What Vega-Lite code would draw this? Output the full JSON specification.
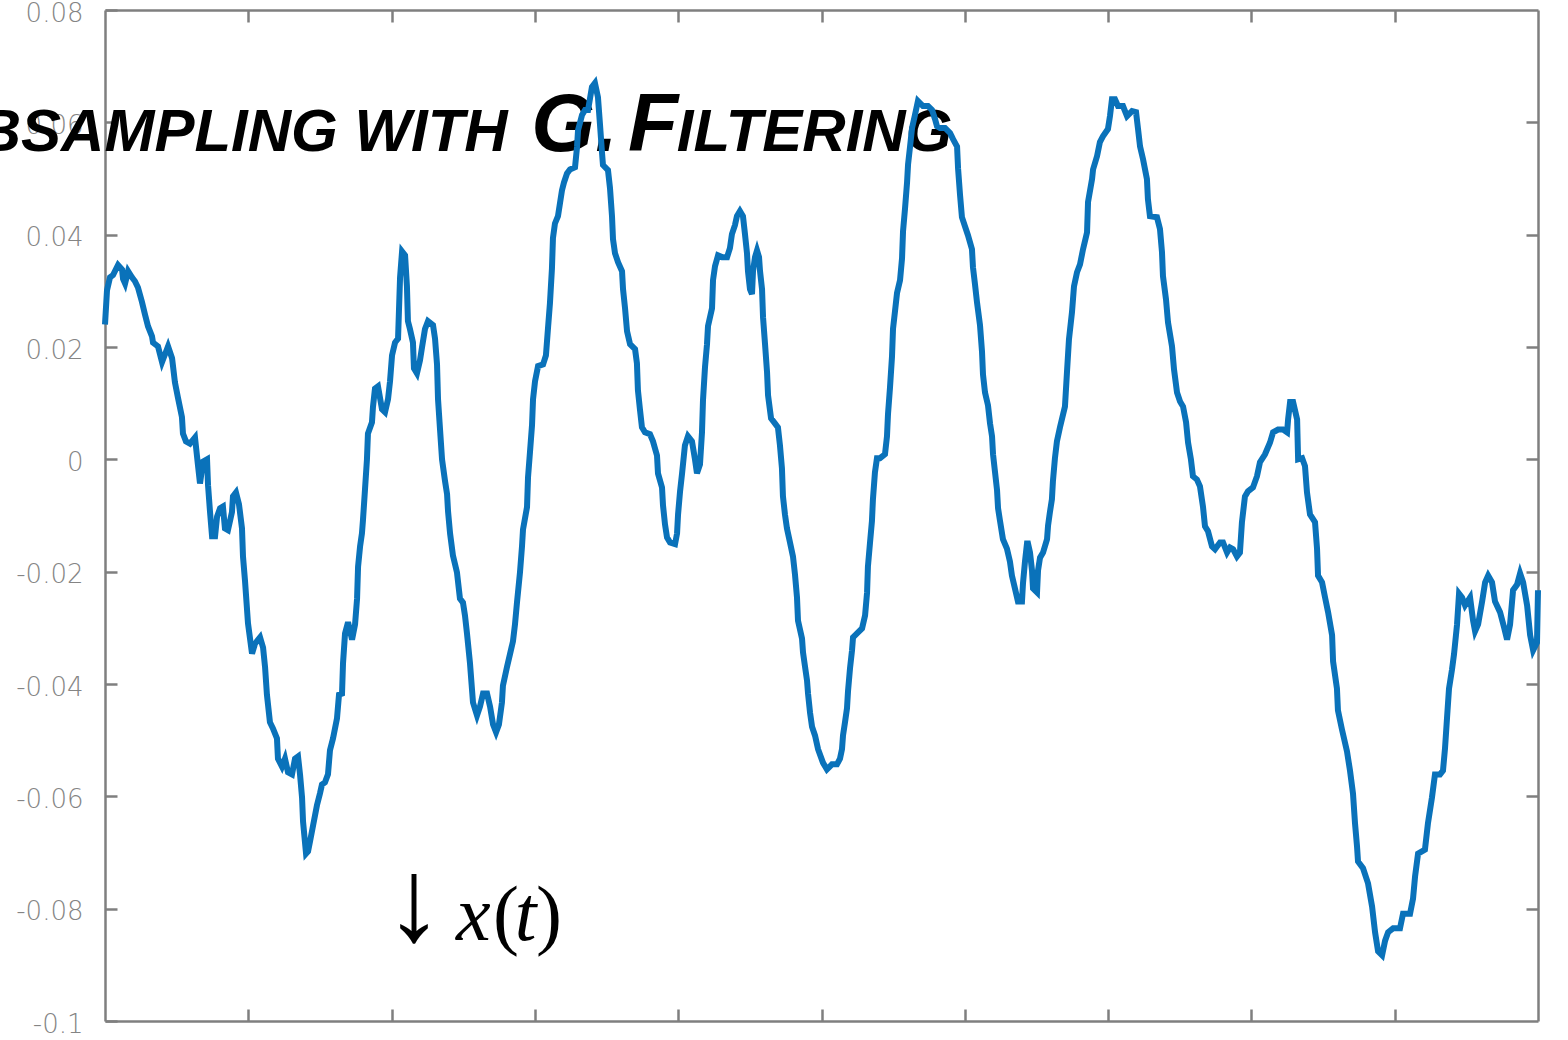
{
  "$schema": "https://vega.github.io/schema/vega-lite/v6.json",
  "width": 1433,
  "height": 1011,
  "autosize": {"type": "none"},
  "padding": {"left": 105, "top": 10, "right": 30, "bottom": 19},
  "background": "white",
  "config": {
    "view": {"stroke": null},
    "axis": {
      "domainColor": "#7f7f7f",
      "domainWidth": 2.5,
      "tickColor": "#7f7f7f",
      "tickWidth": 2.5,
      "tickSize": -12,
      "grid": false,
      "title": null,
      "labelFont": "DejaVu Sans",
      "labelFontSize": 26,
      "labelColor": "#848484",
      "labelFontWeight": 200
    }
  },
  "datasets": {
    "sig": [
      {"t":0.000,"v":0.0240},{"t":0.014,"v":0.0301},{"t":0.035,"v":0.0324},{"t":0.056,"v":0.0328},{"t":0.091,"v":0.0346},{"t":0.119,"v":0.0338},{"t":0.126,"v":0.0321},{"t":0.140,"v":0.0313},{"t":0.161,"v":0.0335},{"t":0.188,"v":0.0324},{"t":0.209,"v":0.0317},{"t":0.230,"v":0.0306},{"t":0.258,"v":0.0280},{"t":0.279,"v":0.0258},{"t":0.300,"v":0.0237},{"t":0.328,"v":0.0219},{"t":0.335,"v":0.0208},{"t":0.370,"v":0.0201},{"t":0.398,"v":0.0173},{"t":0.419,"v":0.0187},{"t":0.440,"v":0.0201},{"t":0.468,"v":0.0180},{"t":0.488,"v":0.0137},{"t":0.509,"v":0.0110},{"t":0.537,"v":0.0075},{"t":0.544,"v":0.0046},{"t":0.565,"v":0.0032},{"t":0.593,"v":0.0028},{"t":0.628,"v":0.0039},{"t":0.649,"v":-0.0011},{"t":0.663,"v":-0.0043},{"t":0.684,"v":-0.0004},{"t":0.712,"v":0.0000},{"t":0.719,"v":-0.0046},{"t":0.733,"v":-0.0094},{"t":0.747,"v":-0.0137},{"t":0.768,"v":-0.0137},{"t":0.782,"v":-0.0102},{"t":0.803,"v":-0.0087},{"t":0.823,"v":-0.0084},{"t":0.837,"v":-0.0123},{"t":0.858,"v":-0.0126},{"t":0.886,"v":-0.0094},{"t":0.893,"v":-0.0066},{"t":0.914,"v":-0.0059},{"t":0.935,"v":-0.0080},{"t":0.956,"v":-0.0123},{"t":0.963,"v":-0.0173},{"t":0.977,"v":-0.0216},{"t":0.998,"v":-0.0292},{"t":1.026,"v":-0.0346},{"t":1.047,"v":-0.0328},{"t":1.082,"v":-0.0317},{"t":1.103,"v":-0.0335},{"t":1.117,"v":-0.0370},{"t":1.130,"v":-0.0419},{"t":1.151,"v":-0.0468},{"t":1.172,"v":-0.0479},{"t":1.200,"v":-0.0497},{"t":1.207,"v":-0.0533},{"t":1.235,"v":-0.0547},{"t":1.256,"v":-0.0533},{"t":1.277,"v":-0.0557},{"t":1.305,"v":-0.0561},{"t":1.326,"v":-0.0533},{"t":1.347,"v":-0.0529},{"t":1.361,"v":-0.0561},{"t":1.375,"v":-0.0602},{"t":1.382,"v":-0.0645},{"t":1.403,"v":-0.0702},{"t":1.417,"v":-0.0698},{"t":1.431,"v":-0.0680},{"t":1.452,"v":-0.0652},{"t":1.479,"v":-0.0616},{"t":1.500,"v":-0.0595},{"t":1.514,"v":-0.0579},{"t":1.535,"v":-0.0575},{"t":1.556,"v":-0.0561},{"t":1.570,"v":-0.0518},{"t":1.591,"v":-0.0497},{"t":1.619,"v":-0.0461},{"t":1.633,"v":-0.0419},
      {"t":1.654,"v":-0.0417},{"t":1.661,"v":-0.0363},{"t":1.675,"v":-0.0310},{"t":1.696,"v":-0.0290},{"t":1.724,"v":-0.0321},{"t":1.745,"v":-0.0294},{"t":1.759,"v":-0.0248},{"t":1.766,"v":-0.0191},{"t":1.780,"v":-0.0155},{"t":1.793,"v":-0.0132},{"t":1.800,"v":-0.0109},{"t":1.814,"v":-0.0055},{"t":1.828,"v":0.0000},{"t":1.835,"v":0.0046},{"t":1.863,"v":0.0066},{"t":1.870,"v":0.0093},{"t":1.884,"v":0.0126},{"t":1.905,"v":0.0130},{"t":1.933,"v":0.0089},{"t":1.954,"v":0.0084},{"t":1.975,"v":0.0107},{"t":1.989,"v":0.0139},{"t":2.003,"v":0.0185},{"t":2.024,"v":0.0208},{"t":2.045,"v":0.0215},{"t":2.059,"v":0.0324},{"t":2.073,"v":0.0370},{"t":2.094,"v":0.0363},{"t":2.107,"v":0.0308},{"t":2.114,"v":0.0246},{"t":2.128,"v":0.0232},{"t":2.149,"v":0.0208},{"t":2.156,"v":0.0162},{"t":2.177,"v":0.0153},{"t":2.198,"v":0.0176},{"t":2.212,"v":0.0199},{"t":2.233,"v":0.0232},{"t":2.254,"v":0.0246},{"t":2.289,"v":0.0239},{"t":2.303,"v":0.0215},{"t":2.317,"v":0.0169},{"t":2.324,"v":0.0107},{"t":2.338,"v":0.0053},{"t":2.352,"v":0.0000},{"t":2.373,"v":-0.0039},{"t":2.387,"v":-0.0062},{"t":2.394,"v":-0.0093},{"t":2.408,"v":-0.0132},{"t":2.428,"v":-0.0171},{"t":2.456,"v":-0.0201},{"t":2.477,"v":-0.0248},{"t":2.498,"v":-0.0255},{"t":2.512,"v":-0.0278},{"t":2.526,"v":-0.0310},{"t":2.547,"v":-0.0363},{"t":2.568,"v":-0.0433},{"t":2.596,"v":-0.0456},{"t":2.617,"v":-0.0440},{"t":2.638,"v":-0.0417},{"t":2.666,"v":-0.0417},{"t":2.687,"v":-0.0440},{"t":2.708,"v":-0.0472},{"t":2.729,"v":-0.0486},{"t":2.749,"v":-0.0472},{"t":2.770,"v":-0.0433},{"t":2.777,"v":-0.0403},{"t":2.805,"v":-0.0370},{"t":2.826,"v":-0.0347},{"t":2.847,"v":-0.0324},{"t":2.861,"v":-0.0294},{"t":2.875,"v":-0.0255},{"t":2.896,"v":-0.0201},{"t":2.910,"v":-0.0155},{"t":2.917,"v":-0.0125},{"t":2.945,"v":-0.0085},{"t":2.952,"v":-0.0032},{"t":2.966,"v":0.0014},{"t":2.980,"v":0.0061},{"t":2.987,"v":0.0107},{"t":3.001,"v":0.0139},{"t":3.022,"v":0.0166},{"t":3.057,"v":0.0169},{"t":3.077,"v":0.0185},{"t":3.091,"v":0.0232},{"t":3.105,"v":0.0278},{"t":3.119,"v":0.0340},{"t":3.126,"v":0.0394},{"t":3.140,"v":0.0420},{"t":3.161,"v":0.0433},{"t":3.175,"v":0.0456},{"t":3.189,"v":0.0479},{"t":3.203,"v":0.0493},{"t":3.224,"v":0.0509},{"t":3.245,"v":0.0516},{"t":3.280,"v":0.0520},{"t":3.294,"v":0.0556},{"t":3.301,"v":0.0586},
      {"t":3.329,"v":0.0613},{"t":3.350,"v":0.0622},{"t":3.371,"v":0.0622},{"t":3.398,"v":0.0663},{"t":3.419,"v":0.0670},{"t":3.440,"v":0.0645},{"t":3.454,"v":0.0597},{"t":3.468,"v":0.0547},{"t":3.475,"v":0.0524},{"t":3.510,"v":0.0515},{"t":3.524,"v":0.0483},{"t":3.538,"v":0.0433},{"t":3.545,"v":0.0392},{"t":3.559,"v":0.0367},{"t":3.580,"v":0.0351},{"t":3.608,"v":0.0335},{"t":3.615,"v":0.0303},{"t":3.629,"v":0.0269},{"t":3.643,"v":0.0228},{"t":3.664,"v":0.0205},{"t":3.699,"v":0.0196},{"t":3.712,"v":0.0171},{"t":3.719,"v":0.0123},{"t":3.733,"v":0.0089},{"t":3.747,"v":0.0057},{"t":3.768,"v":0.0048},{"t":3.803,"v":0.0045},{"t":3.824,"v":0.0032},{"t":3.852,"v":0.0007},{"t":3.859,"v":-0.0025},{"t":3.887,"v":-0.0050},{"t":3.894,"v":-0.0082},{"t":3.908,"v":-0.0116},{"t":3.922,"v":-0.0139},{"t":3.943,"v":-0.0148},{"t":3.978,"v":-0.0151},{"t":3.992,"v":-0.0132},{"t":3.999,"v":-0.0098},{"t":4.013,"v":-0.0057},{"t":4.027,"v":-0.0025},{"t":4.047,"v":0.0025},{"t":4.068,"v":0.0041},{"t":4.096,"v":0.0032},{"t":4.117,"v":0.0000},{"t":4.131,"v":-0.0025},{"t":4.152,"v":-0.0009},{"t":4.166,"v":0.0048},{"t":4.173,"v":0.0105},{"t":4.187,"v":0.0164},{"t":4.201,"v":0.0205},{"t":4.208,"v":0.0237},{"t":4.236,"v":0.0269},{"t":4.243,"v":0.0319},{"t":4.257,"v":0.0344},{"t":4.278,"v":0.0363},{"t":4.306,"v":0.0360},{"t":4.341,"v":0.0360},{"t":4.361,"v":0.0376},{"t":4.375,"v":0.0401},{"t":4.396,"v":0.0417},{"t":4.410,"v":0.0433},{"t":4.431,"v":0.0442},{"t":4.452,"v":0.0433},{"t":4.466,"v":0.0401},{"t":4.480,"v":0.0367},{"t":4.487,"v":0.0335},{"t":4.501,"v":0.0303},{"t":4.515,"v":0.0294},{"t":4.522,"v":0.0335},{"t":4.536,"v":0.0360},{"t":4.550,"v":0.0372},{"t":4.564,"v":0.0360},{"t":4.571,"v":0.0335},{"t":4.585,"v":0.0303},{"t":4.592,"v":0.0253},{"t":4.606,"v":0.0205},{"t":4.620,"v":0.0155},{"t":4.627,"v":0.0114},{"t":4.648,"v":0.0073},{"t":4.675,"v":0.0064},{"t":4.696,"v":0.0057},{"t":4.710,"v":0.0025},{"t":4.724,"v":-0.0016},{"t":4.731,"v":-0.0066},{"t":4.745,"v":-0.0098},{"t":4.759,"v":-0.0123},{"t":4.780,"v":-0.0148},{"t":4.801,"v":-0.0173},{"t":4.815,"v":-0.0205},{"t":4.829,"v":-0.0246},{"t":4.836,"v":-0.0287},{"t":4.864,"v":-0.0319},{"t":4.871,"v":-0.0344},{"t":4.885,"v":-0.0369},{"t":4.899,"v":-0.0394},{"t":4.906,"v":-0.0417},{"t":4.920,"v":-0.0451},{"t":4.934,"v":-0.0476},{"t":4.955,"v":-0.0492},{"t":4.976,"v":-0.0516},
      {"t":5.010,"v":-0.0540},{"t":5.038,"v":-0.0552},{"t":5.073,"v":-0.0543},{"t":5.108,"v":-0.0543},{"t":5.129,"v":-0.0533},{"t":5.143,"v":-0.0516},{"t":5.150,"v":-0.0492},{"t":5.164,"v":-0.0468},{"t":5.178,"v":-0.0443},{"t":5.185,"v":-0.0413},{"t":5.199,"v":-0.0372},{"t":5.213,"v":-0.0340},{"t":5.220,"v":-0.0317},{"t":5.248,"v":-0.0310},{"t":5.283,"v":-0.0301},{"t":5.304,"v":-0.0278},{"t":5.318,"v":-0.0237},{"t":5.324,"v":-0.0191},{"t":5.338,"v":-0.0150},{"t":5.352,"v":-0.0110},{"t":5.359,"v":-0.0071},{"t":5.373,"v":-0.0023},{"t":5.387,"v":0.0002},{"t":5.408,"v":0.0002},{"t":5.443,"v":0.0009},{"t":5.457,"v":0.0041},{"t":5.464,"v":0.0080},{"t":5.478,"v":0.0128},{"t":5.492,"v":0.0183},{"t":5.499,"v":0.0232},{"t":5.513,"v":0.0264},{"t":5.527,"v":0.0296},{"t":5.548,"v":0.0319},{"t":5.562,"v":0.0358},{"t":5.569,"v":0.0406},{"t":5.583,"v":0.0447},{"t":5.597,"v":0.0493},{"t":5.604,"v":0.0525},{"t":5.618,"v":0.0557},{"t":5.632,"v":0.0590},{"t":5.652,"v":0.0613},{"t":5.673,"v":0.0638},{"t":5.708,"v":0.0629},{"t":5.743,"v":0.0629},{"t":5.771,"v":0.0622},{"t":5.792,"v":0.0606},{"t":5.806,"v":0.0593},{"t":5.827,"v":0.0590},{"t":5.862,"v":0.0590},{"t":5.897,"v":0.0581},{"t":5.918,"v":0.0570},{"t":5.946,"v":0.0557},{"t":5.953,"v":0.0518},{"t":5.967,"v":0.0470},{"t":5.980,"v":0.0431},{"t":6.001,"v":0.0415},{"t":6.022,"v":0.0399},{"t":6.050,"v":0.0374},{"t":6.057,"v":0.0342},{"t":6.071,"v":0.0312},{"t":6.085,"v":0.0280},{"t":6.106,"v":0.0239},{"t":6.120,"v":0.0192},{"t":6.127,"v":0.0151},{"t":6.141,"v":0.0119},{"t":6.162,"v":0.0096},{"t":6.176,"v":0.0064},{"t":6.190,"v":0.0041},{"t":6.197,"v":0.0009},{"t":6.211,"v":-0.0023},{"t":6.225,"v":-0.0055},{"t":6.232,"v":-0.0087},{"t":6.246,"v":-0.0110},{"t":6.266,"v":-0.0142},{"t":6.294,"v":-0.0159},{"t":6.315,"v":-0.0182},{"t":6.329,"v":-0.0207},{"t":6.350,"v":-0.0230},{"t":6.371,"v":-0.0253},{"t":6.399,"v":-0.0253},{"t":6.406,"v":-0.0221},{"t":6.420,"v":-0.0182},{"t":6.434,"v":-0.0150},{"t":6.441,"v":-0.0150},{"t":6.455,"v":-0.0166},{"t":6.469,"v":-0.0198},{"t":6.476,"v":-0.0230},{"t":6.504,"v":-0.0237},{"t":6.511,"v":-0.0198},{"t":6.525,"v":-0.0175},{"t":6.546,"v":-0.0166},{"t":6.574,"v":-0.0142},{"t":6.581,"v":-0.0118},{"t":6.594,"v":-0.0094},{"t":6.608,"v":-0.0071},{"t":6.615,"v":-0.0039},{"t":6.629,"v":0.0002},{"t":6.643,"v":0.0032},{"t":6.664,"v":0.0057},
      {"t":6.699,"v":0.0094},{"t":6.713,"v":0.0155},{"t":6.727,"v":0.0214},{"t":6.748,"v":0.0262},{"t":6.762,"v":0.0308},{"t":6.783,"v":0.0333},{"t":6.804,"v":0.0347},{"t":6.825,"v":0.0374},{"t":6.853,"v":0.0404},{"t":6.860,"v":0.0458},{"t":6.888,"v":0.0499},{"t":6.895,"v":0.0516},{"t":6.923,"v":0.0540},{"t":6.943,"v":0.0565},{"t":6.964,"v":0.0575},{"t":6.999,"v":0.0588},{"t":7.013,"v":0.0611},{"t":7.027,"v":0.0641},{"t":7.048,"v":0.0641},{"t":7.069,"v":0.0629},{"t":7.104,"v":0.0629},{"t":7.132,"v":0.0611},{"t":7.167,"v":0.0620},{"t":7.195,"v":0.0618},{"t":7.209,"v":0.0588},{"t":7.223,"v":0.0557},{"t":7.244,"v":0.0534},{"t":7.271,"v":0.0499},{"t":7.278,"v":0.0463},{"t":7.292,"v":0.0433},{"t":7.341,"v":0.0431},{"t":7.362,"v":0.0410},{"t":7.376,"v":0.0369},{"t":7.383,"v":0.0326},{"t":7.404,"v":0.0285},{"t":7.418,"v":0.0244},{"t":7.446,"v":0.0201},{"t":7.460,"v":0.0160},{"t":7.481,"v":0.0119},{"t":7.502,"v":0.0103},{"t":7.523,"v":0.0094},{"t":7.544,"v":0.0066},{"t":7.558,"v":0.0030},{"t":7.578,"v":0.0000},{"t":7.592,"v":-0.0030},{"t":7.620,"v":-0.0036},{"t":7.641,"v":-0.0048},{"t":7.662,"v":-0.0084},{"t":7.676,"v":-0.0119},{"t":7.697,"v":-0.0128},{"t":7.725,"v":-0.0155},{"t":7.746,"v":-0.0160},{"t":7.781,"v":-0.0148},{"t":7.802,"v":-0.0148},{"t":7.830,"v":-0.0166},{"t":7.851,"v":-0.0157},{"t":7.872,"v":-0.0160},{"t":7.899,"v":-0.0173},{"t":7.920,"v":-0.0166},{"t":7.934,"v":-0.0112},{"t":7.955,"v":-0.0066},{"t":7.976,"v":-0.0057},{"t":8.011,"v":-0.0050},{"t":8.039,"v":-0.0030},{"t":8.060,"v":-0.0005},{"t":8.095,"v":0.0009},{"t":8.130,"v":0.0030},{"t":8.151,"v":0.0048},{"t":8.186,"v":0.0053},{"t":8.221,"v":0.0053},{"t":8.249,"v":0.0048},{"t":8.256,"v":0.0071},{"t":8.270,"v":0.0102},{"t":8.291,"v":0.0102},{"t":8.319,"v":0.0071},{"t":8.326,"v":0.0000},
      {"t":8.354,"v":0.0002},{"t":8.374,"v":-0.0012},{"t":8.388,"v":-0.0059},{"t":8.409,"v":-0.0098},{"t":8.444,"v":-0.0112},{"t":8.458,"v":-0.0159},{"t":8.465,"v":-0.0207},{"t":8.493,"v":-0.0219},{"t":8.514,"v":-0.0246},{"t":8.535,"v":-0.0272},{"t":8.563,"v":-0.0313},{"t":8.570,"v":-0.0360},{"t":8.597,"v":-0.0408},{"t":8.604,"v":-0.0447},{"t":8.632,"v":-0.0481},{"t":8.667,"v":-0.0520},{"t":8.688,"v":-0.0554},{"t":8.709,"v":-0.0595},{"t":8.723,"v":-0.0648},{"t":8.737,"v":-0.0689},{"t":8.744,"v":-0.0716},{"t":8.779,"v":-0.0728},{"t":8.814,"v":-0.0755},{"t":8.842,"v":-0.0796},{"t":8.863,"v":-0.0842},{"t":8.884,"v":-0.0876},{"t":8.912,"v":-0.0883},{"t":8.933,"v":-0.0857},{"t":8.954,"v":-0.0842},{"t":8.989,"v":-0.0835},{"t":9.037,"v":-0.0835},{"t":9.058,"v":-0.0809},{"t":9.107,"v":-0.0809},{"t":9.128,"v":-0.0782},{"t":9.142,"v":-0.0743},{"t":9.163,"v":-0.0702},{"t":9.211,"v":-0.0695},{"t":9.232,"v":-0.0648},{"t":9.260,"v":-0.0602},{"t":9.281,"v":-0.0561},{"t":9.316,"v":-0.0561},{"t":9.337,"v":-0.0554},{"t":9.351,"v":-0.0515},{"t":9.365,"v":-0.0461},{"t":9.379,"v":-0.0408},{"t":9.400,"v":-0.0374},{"t":9.414,"v":-0.0347},{"t":9.435,"v":-0.0294},{"t":9.449,"v":-0.0239},{"t":9.470,"v":-0.0246},{"t":9.491,"v":-0.0260},{"t":9.526,"v":-0.0246},{"t":9.547,"v":-0.0287},{"t":9.561,"v":-0.0306},{"t":9.582,"v":-0.0294},{"t":9.610,"v":-0.0253},{"t":9.631,"v":-0.0219},{"t":9.652,"v":-0.0207},{"t":9.679,"v":-0.0219},{"t":9.700,"v":-0.0253},{"t":9.735,"v":-0.0272},{"t":9.763,"v":-0.0299},{"t":9.784,"v":-0.0321},{"t":9.805,"v":-0.0294},{"t":9.826,"v":-0.0233},{"t":9.854,"v":-0.0223},{"t":9.875,"v":-0.0203},{"t":9.896,"v":-0.0219},{"t":9.924,"v":-0.0260},{"t":9.945,"v":-0.0313},{"t":9.966,"v":-0.0340},{"t":9.993,"v":-0.0326},{"t":10.000,"v":-0.0233}
    ],
    "one": [{}]
  },
  "layer": [
    {
      "data": {"name": "sig"},
      "mark": {"type": "line", "strokeOpacity": 0},
      "encoding": {
        "x": {"field": "t", "type": "quantitative",
              "scale": {"domain": [0, 10], "nice": false, "zero": false},
              "axis": {"orient": "top", "values": [1,2,3,4,5,6,7,8,9], "labels": false}},
        "y": {"field": "v", "type": "quantitative",
              "scale": {"domain": [-0.1, 0.08], "nice": false, "zero": false},
              "axis": {"orient": "right", "values": [-0.08,-0.06,-0.04,-0.02,0,0.02,0.04,0.06], "labels": false}}
      }
    },
    {
      "data": {"name": "one"},
      "mark": {"type": "text", "text": "UBSAMPLING WITH", "align": "right", "baseline": "alphabetic",
               "font": "Liberation Sans", "fontSize": 60, "fontWeight": "bold", "fontStyle": "italic", "color": "black"},
      "encoding": {
        "x": {"datum": 2.81, "type": "quantitative", "axis": null},
        "y": {"datum": 0.0549, "type": "quantitative", "axis": null}
      }
    },
    {
      "data": {"name": "one"},
      "mark": {"type": "text", "text": "S", "align": "right", "baseline": "alphabetic",
               "font": "Liberation Sans", "fontSize": 82, "fontWeight": "bold", "fontStyle": "italic", "color": "black"},
      "encoding": {
        "x": {"datum": -1.2, "type": "quantitative", "axis": null},
        "y": {"datum": 0.0549, "type": "quantitative", "axis": null}
      }
    },
    {
      "data": {"name": "one"},
      "mark": {"type": "text", "text": "G.", "align": "left", "baseline": "alphabetic",
               "font": "Liberation Sans", "fontSize": 82, "fontWeight": "bold", "fontStyle": "italic", "color": "black"},
      "encoding": {
        "x": {"datum": 2.975, "type": "quantitative", "axis": null},
        "y": {"datum": 0.0549, "type": "quantitative", "axis": null}
      }
    },
    {
      "data": {"name": "one"},
      "mark": {"type": "text", "text": "F", "align": "left", "baseline": "alphabetic",
               "font": "Liberation Sans", "fontSize": 82, "fontWeight": "bold", "fontStyle": "italic", "color": "black"},
      "encoding": {
        "x": {"datum": 3.65, "type": "quantitative", "axis": null},
        "y": {"datum": 0.0549, "type": "quantitative", "axis": null}
      }
    },
    {
      "data": {"name": "one"},
      "mark": {"type": "text", "text": "ILTERING", "align": "left", "baseline": "alphabetic",
               "font": "Liberation Sans", "fontSize": 60, "fontWeight": "bold", "fontStyle": "italic", "color": "black"},
      "encoding": {
        "x": {"datum": 3.99, "type": "quantitative", "axis": null},
        "y": {"datum": 0.0549, "type": "quantitative", "axis": null}
      }
    },
    {
      "data": {"name": "one"},
      "mark": {"type": "text", "text": "↓", "align": "center", "baseline": "alphabetic",
               "font": "Liberation Serif", "fontSize": 118, "color": "black"},
      "encoding": {
        "x": {"datum": 2.156, "type": "quantitative", "axis": null},
        "y": {"datum": -0.0855, "type": "quantitative", "axis": null}
      }
    },
    {
      "data": {"name": "one"},
      "mark": {"type": "text", "text": "x", "align": "left", "baseline": "alphabetic",
               "font": "Liberation Serif", "fontSize": 78, "fontStyle": "italic", "color": "black"},
      "encoding": {
        "x": {"datum": 2.449, "type": "quantitative", "axis": null},
        "y": {"datum": -0.0855, "type": "quantitative", "axis": null}
      }
    },
    {
      "data": {"name": "one"},
      "mark": {"type": "text", "text": "(", "align": "left", "baseline": "alphabetic",
               "font": "Liberation Serif", "fontSize": 78, "color": "black"},
      "encoding": {
        "x": {"datum": 2.708, "type": "quantitative", "axis": null},
        "y": {"datum": -0.0855, "type": "quantitative", "axis": null}
      }
    },
    {
      "data": {"name": "one"},
      "mark": {"type": "text", "text": "t", "align": "left", "baseline": "alphabetic",
               "font": "Liberation Serif", "fontSize": 78, "fontStyle": "italic", "color": "black"},
      "encoding": {
        "x": {"datum": 2.86, "type": "quantitative", "axis": null},
        "y": {"datum": -0.0855, "type": "quantitative", "axis": null}
      }
    },
    {
      "data": {"name": "one"},
      "mark": {"type": "text", "text": ")", "align": "left", "baseline": "alphabetic",
               "font": "Liberation Serif", "fontSize": 78, "color": "black"},
      "encoding": {
        "x": {"datum": 3.008, "type": "quantitative", "axis": null},
        "y": {"datum": -0.0855, "type": "quantitative", "axis": null}
      }
    },
    {
      "data": {"name": "sig"},
      "mark": {"type": "line", "color": "#0a72ba", "strokeWidth": 6, "strokeJoin": "miter", "strokeCap": "butt"},
      "encoding": {
        "x": {"field": "t", "type": "quantitative",
              "axis": {"orient": "bottom", "values": [1,2,3,4,5,6,7,8,9], "labels": false}},
        "y": {"field": "v", "type": "quantitative",
              "axis": {"orient": "left", "values": [-0.1,-0.08,-0.06,-0.04,-0.02,0,0.02,0.04,0.06,0.08],
                       "labelPadding": 34, "labelOffset": 3,
                       "labelExpr": "replace(format(datum.value, '.2~f'), '\u2212', '-')"}}
      }
    }
  ],
  "resolve": {"axis": {"x": "independent", "y": "independent"}}
}
